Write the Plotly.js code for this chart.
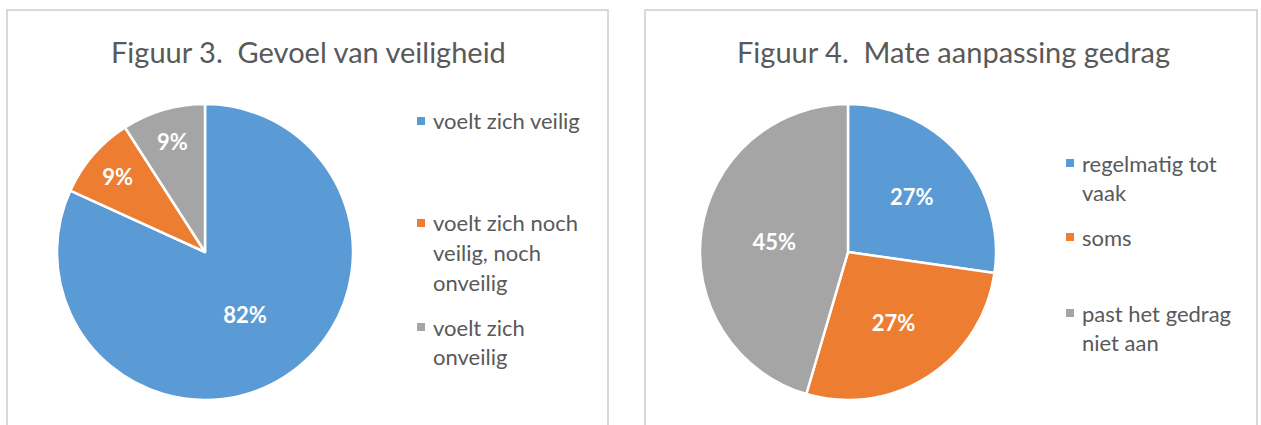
<!DOCTYPE html>
<html>
<head>
<meta charset="utf-8">
<script src="https://cdn.plot.ly/plotly-3.0.1.min.js"></script>
<style>html,body{margin:0;padding:0;background:#fff;}#chart{width:1261px;height:425px;}</style>
</head>
<body>
<div id="chart"></div>
<script>
// ---- data ----
const titleLeft = "Figuur 3.  Gevoel van veiligheid";
const labelsLeft = ["voelt zich veilig", "voelt zich noch<br>veilig, noch<br>onveilig", "voelt zich<br>onveilig"];
const valuesLeft = [9, 1, 1];

const titleRight = "Figuur 4.  Mate aanpassing gedrag";
const labelsRight = ["regelmatig tot<br>vaak", "soms", "past het gedrag<br>niet aan"];
const valuesRight = [3, 3, 5];

const sliceColors = ["#5B9BD5", "#ED7D31", "#A5A5A5"];

// ---- layout helpers ----
const W = 1261, H = 425;
const px = x => x / W;
const py = y => 1 - y / H;
const FONT = "Lato, 'Open Sans', sans-serif";
const TXT = "#595959";

function pieTrace(labels, values, cx, cy, r) {
  return {
    type: "pie",
    labels: labels,
    values: values,
    sort: false,
    direction: "clockwise",
    rotation: 0,
    marker: {colors: sliceColors, line: {color: "#ffffff", width: 2.5}},
    texttemplate: "%{percent:.0%}",
    textposition: "inside",
    insidetextorientation: "horizontal",
    textfont: {family: FONT, size: 22, color: "#ffffff", weight: "bold"},
    hoverinfo: "label+percent",
    showlegend: false,
    domain: {x: [px(cx - r), px(cx + r)], y: [py(cy + r), py(cy - r)]}
  };
}

const data = [
  pieTrace(labelsLeft, valuesLeft, 205, 252, 148),
  pieTrace(labelsRight, valuesRight, 848, 252, 148)
];

const annotations = [];
const shapes = [];

// panel borders
[[7, 608], [645, 1257]].forEach(([x0, x1]) => {
  shapes.push({type: "rect", xref: "paper", yref: "paper",
    x0: px(x0), x1: px(x1), y0: py(10), y1: py(440),
    line: {color: "#D9D9D9", width: 2}, fillcolor: "rgba(0,0,0,0)"});
});

// titles
[[titleLeft, 308], [titleRight, 953]].forEach(([t, cx]) => {
  annotations.push({text: t, xref: "paper", yref: "paper", x: px(cx), y: py(51),
    xanchor: "center", yanchor: "middle", showarrow: false,
    font: {family: FONT, size: 29, color: TXT}});
});

// legends (first-line centres, 30px line pitch)
function legend(labels, sqX, textX, firstY) {
  labels.forEach((lab, i) => {
    const y0 = firstY[i];
    shapes.push({type: "rect", xref: "paper", yref: "paper",
      x0: px(sqX - 4), x1: px(sqX + 4), y0: py(y0 + 4), y1: py(y0 - 4),
      line: {width: 0}, fillcolor: sliceColors[i]});
    lab.split("<br>").forEach((line, j) => {
      annotations.push({text: line, xref: "paper", yref: "paper",
        x: px(textX), y: py(y0 + j * 29.5), xanchor: "left", yanchor: "middle",
        showarrow: false, font: {family: FONT, size: 22, color: TXT}});
    });
  });
}
legend(labelsLeft, 421, 431, [121, 223, 327]);
legend(labelsRight, 1070, 1080, [163, 237, 313]);

const layout = {
  width: W, height: H,
  margin: {l: 0, r: 0, t: 0, b: 0},
  paper_bgcolor: "#ffffff",
  plot_bgcolor: "#ffffff",
  showlegend: false,
  annotations: annotations,
  shapes: shapes
};

Plotly.newPlot("chart", data, layout, {displayModeBar: false, staticPlot: true});
</script>
</body>
</html>
